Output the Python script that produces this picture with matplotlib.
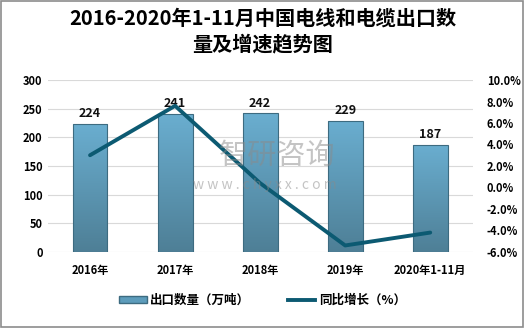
import numpy as np
import matplotlib
matplotlib.use("Agg")
import matplotlib.pyplot as plt
from matplotlib.lines import Line2D
from matplotlib.patches import Rectangle

plt.rcParams['font.family'] = ['Noto Sans CJK SC', 'DejaVu Sans']

years = ['2016年', '2017年', '2018年', '2019年', '2020年1-11月']
export_qty = [224, 241, 242, 229, 187]
growth = [3.0, 7.6, 0.4, -5.4, -4.2]
left_ticks = [0, 50, 100, 150, 200, 250, 300]
right_ticks = [-6, -4, -2, 0, 2, 4, 6, 8, 10]

fig = plt.figure(figsize=(5.25, 3.28), dpi=100)
fig.patches.append(Rectangle((0.002, 0.003), 0.995, 0.994, transform=fig.transFigure,
                             fill=False, edgecolor='#8c8c8c', linewidth=1.2))

ax = fig.add_axes([0.0905, 0.232, 0.81, 0.524])
x = np.arange(len(years))
bars = ax.bar(x, export_qty, width=0.41, color='none', edgecolor='#3d6b80',
              linewidth=0.8, zorder=3)

# vertical gradient fill, light on top and darker at the base
grad = np.linspace(0, 1, 256).reshape(-1, 1)
cmap = matplotlib.colors.LinearSegmentedColormap.from_list('bar', ['#4e7f96', '#6aaed0'])
for b in bars:
    bx, by = b.get_x(), b.get_y()
    im = ax.imshow(grad, extent=[bx, bx + b.get_width(), by, by + b.get_height()],
                   origin='lower', aspect='auto', cmap=cmap, zorder=2)
    im.set_clip_path(b)

for xi, v in zip(x, export_qty):
    ax.text(xi, v + 6, str(v), ha='center', va='bottom', fontsize=9,
            fontweight='bold', color='#111111', zorder=6)

ax.set_xlim(-0.5, len(years) - 0.5)
ax.set_ylim(0, 300)
ax.set_yticks(left_ticks)
ax.set_xticks(x)
ax.set_xticklabels(years)
ax.yaxis.grid(True, color='#d9d9d9', linewidth=0.8, zorder=0)
ax.set_axisbelow(True)
for s in ax.spines.values():
    s.set_visible(False)
ax.tick_params(length=0, labelsize=8)
ax.tick_params(axis='x', pad=9)
for lab in ax.get_xticklabels() + ax.get_yticklabels():
    lab.set_fontweight('bold')

ax2 = ax.twinx()
ax2.plot(x, growth, color='#0c5a72', linewidth=2.8, zorder=5, solid_capstyle='round')
ax2.set_ylim(-6, 10)
ax2.set_yticks(right_ticks)
ax2.set_yticklabels([f'{t:.1f}%' for t in right_ticks])
for s in ax2.spines.values():
    s.set_visible(False)
ax2.tick_params(length=0, labelsize=8, pad=10)
for lab in ax2.get_yticklabels():
    lab.set_fontweight('bold')
    lab.set_horizontalalignment('left')
ax.set_xlim(-0.5, len(years) - 0.5)

fig.text(0.5, 0.905, '2016-2020年1-11月中国电线和电缆出口数\n量及增速趋势图', ha='center',
         va='center', fontsize=14.5, fontweight='bold', linespacing=1.3)

# faint watermark over the plot
fig.text(0.528, 0.525, '智研咨询', ha='center', va='center', fontsize=21,
         color='#8a8a8a', alpha=0.5, zorder=10)
fig.text(0.505, 0.435, 'w w w . c h y x x . c o m', ha='center', va='center', fontsize=10,
         color='#8a8a8a', alpha=0.5, zorder=10)

handles = [Rectangle((0, 0), 1, 1, facecolor='#5d9cbb', edgecolor='#3d6b80'),
           Line2D([], [], color='#0c5a72', linewidth=2.8)]
leg = fig.legend(handles, ['出口数量（万吨）', '同比增长（%）'], loc='center',
                 bbox_to_anchor=(0.5, 0.085), ncol=2, frameon=False,
                 prop={'size': 9, 'weight': 'bold'}, handlelength=2.2,
                 handleheight=0.5, columnspacing=3, handletextpad=0.3)

fig.savefig('out.png', dpi=100)
